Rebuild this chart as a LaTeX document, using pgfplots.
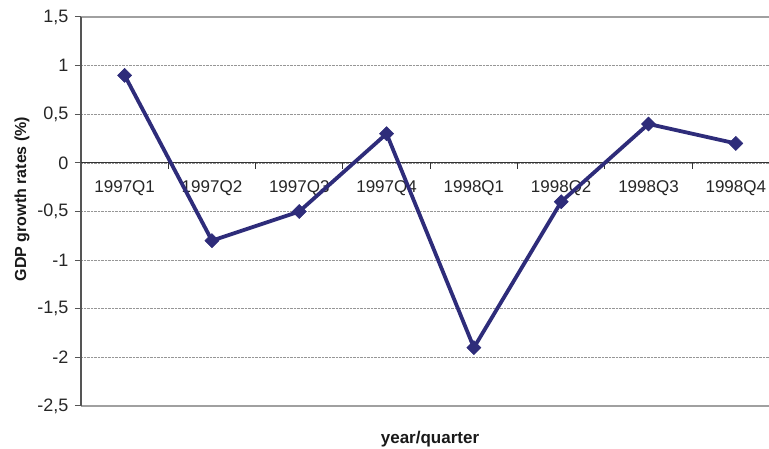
\documentclass[border=0pt]{standalone}
\usepackage{pgfplots}
\pgfplotsset{compat=1.18}
\usepackage{fontspec}
\setmainfont{Liberation Sans}
\definecolor{navy}{RGB}{46,44,122}
\definecolor{spine}{RGB}{85,85,85}
\definecolor{framec}{RGB}{160,160,160}
\definecolor{gridc}{RGB}{150,150,150}

\begin{document}
\begin{tikzpicture}
\begin{axis}[
    scale only axis, width=688pt, height=389pt,
    xmin=-0.5, xmax=7.38,
    ymin=-2.5, ymax=1.5,
    ytick={-2.5,-2,-1.5,-1,-0.5,0,0.5,1,1.5},
    xtick=\empty,
    axis line style={draw=none},
    ytick pos=left, tick align=outside,
    major tick length=6pt,
    y tick style={spine, line width=1pt},
    ymajorgrids,
    grid style={gridc, densely dotted, line width=0.7pt},
    yticklabel style={/pgf/number format/use comma,
        /pgf/number format/assume math mode=true,
        font=\fontsize{18}{21}\selectfont, text=black!85, xshift=-3pt},
    clip=false,
]
    \coordinate (sw) at (rel axis cs:0,0);
    % frame lines
    \draw[framec, line width=2pt] (axis cs:-0.5,1.5) -- (axis cs:7.38,1.5);
    \draw[framec, line width=2pt] (axis cs:-0.5,-2.5) -- (axis cs:7.38,-2.5);
    \draw[spine, line width=1.5pt] (axis cs:-0.5,-2.5) -- (axis cs:-0.5,1.5);
    % category axis at zero
    \draw[black!80, line width=1.2pt] (axis cs:-0.5,0) -- (axis cs:7.38,0);
    \pgfplotsinvokeforeach{0.5,1.5,2.5,3.5,4.5,5.5,6.5}{
        \draw[black!80, line width=1pt] (axis cs:#1,0) -- ++(0pt,-6pt);
    }
    \node[font=\fontsize{17}{20}\selectfont, text=black!85] at ([yshift=-25pt]axis cs:0,0) {1997Q1};
    \node[font=\fontsize{17}{20}\selectfont, text=black!85] at ([yshift=-25pt]axis cs:1,0) {1997Q2};
    \node[font=\fontsize{17}{20}\selectfont, text=black!85] at ([yshift=-25pt]axis cs:2,0) {1997Q3};
    \node[font=\fontsize{17}{20}\selectfont, text=black!85] at ([yshift=-25pt]axis cs:3,0) {1997Q4};
    \node[font=\fontsize{17}{20}\selectfont, text=black!85] at ([yshift=-25pt]axis cs:4,0) {1998Q1};
    \node[font=\fontsize{17}{20}\selectfont, text=black!85] at ([yshift=-25pt]axis cs:5,0) {1998Q2};
    \node[font=\fontsize{17}{20}\selectfont, text=black!85] at ([yshift=-25pt]axis cs:6,0) {1998Q3};
    \node[font=\fontsize{17}{20}\selectfont, text=black!85] at ([yshift=-25pt]axis cs:7,0) {1998Q4};

    \addplot[navy, line width=3.8pt, mark=square*, mark size=5pt,
        mark options={solid, rotate=45, line width=0.5pt}] coordinates {
        (0,0.9) (1,-0.8) (2,-0.5) (3,0.3)
        (4,-1.9) (5,-0.4) (6,0.4) (7,0.2)
    };
\end{axis}
\node[rotate=90, font=\bfseries\fontsize{16}{19}\selectfont, text=black!90]
    at ([shift={(-59pt,207pt)}]sw) {GDP growth rates (\%)};
\node[font=\bfseries\fontsize{17}{20}\selectfont, text=black!90]
    at ([shift={(349pt,-33pt)}]sw) {year/quarter};
\pgfresetboundingbox
\path[use as bounding box] ([shift={(-81pt,-43pt)}]sw) rectangle ([shift={(688pt,406pt)}]sw);
\end{tikzpicture}
\end{document}
